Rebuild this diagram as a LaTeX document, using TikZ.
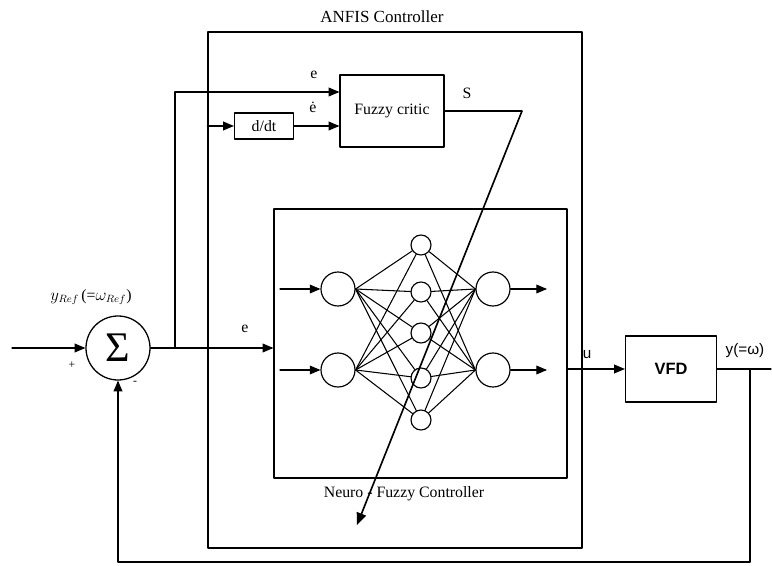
\documentclass[tikz,border=0pt]{standalone}
\usepackage{fontspec}
\setmainfont{Liberation Serif}
\setsansfont{Liberation Sans}
\usetikzlibrary{arrows}

\begin{document}
\begin{tikzpicture}[line cap=round,line join=round,>=triangle 45,x=0.03cm,y=-0.03cm,
    line width=1.1pt,
    box/.style={draw,line width=1.1pt,inner sep=0pt},
    neuron/.style={draw,circle,fill=white,line width=1pt,inner sep=0pt},
    lbl/.style={font=\fontsize{13.5}{15}\selectfont,inner sep=1pt}]
                \useasboundingbox (0,0) rectangle (772,566);
                % outer controller boxes
                \node[box,minimum width=11.22cm,minimum height=15.48cm] (anfis) at (395,290) {};
                \node[lbl,anchor=south,font=\fontsize{14.5}{16}\selectfont] (anfislbl) at (382,24) {ANFIS Controller};
                \node[box,minimum width=8.79cm,minimum height=8.07cm] (nf) at (420.5,343.5) {};
                \node[lbl] (nflbl) at (404,494) {Neuro - Fuzzy Controller};
                % blocks
                \node[box,circle,minimum size=1.92cm] (sum) at (118,348) {\fontsize{36}{38}\selectfont Σ};
                \node[box,minimum width=1.77cm,minimum height=0.78cm,lbl] (dt) at (264,126) {d/dt};
                \node[box,minimum width=3.12cm,minimum height=2.16cm,lbl] (critic) at (392,111) {Fuzzy critic};
                \node[box,minimum width=2.73cm,minimum height=1.98cm,font=\sffamily\bfseries\fontsize{14}{16}\selectfont] (vfd) at (671,369) {VFD};
                % neurons
                \node[neuron,minimum size=1.02cm] (in1) at (338,289) {};
                \node[neuron,minimum size=1.02cm] (in2) at (338,370) {};
                \node[neuron,minimum size=1.02cm] (out1) at (493,289) {};
                \node[neuron,minimum size=1.02cm] (out2) at (493,370) {};
                \foreach \i/\y in {1/245,2/292,3/333,4/378,5/420}
                    \node[neuron,minimum size=0.6cm] (h\i) at (421,\y) {};
                \foreach \i in {1,2}
                    \foreach \j in {1,...,5}{
                        \draw [line width=0.9pt] (in\i.east) -- (h\j);
                        \draw [line width=0.9pt] (h\j) -- (out\i.west);
                    }
                % free ends
                \coordinate (src) at (12,348);
                \coordinate (b1) at (175,348);
                \coordinate (etop) at (0,92);
                \coordinate (nin1) at (280,289);
                \coordinate (nin2) at (280,370);
                \coordinate (nout1) at (547,289);
                \coordinate (nout2) at (547,370);
                \coordinate (s1) at (522,111);
                \coordinate (s2) at (357,525);
                \coordinate (yout) at (771,369);
                \coordinate (fb) at (750,369);
                \coordinate (fbot) at (750,562);
                % connectors
                \draw [->] (src) -- (sum.west);
                \draw [->] (sum.east) -- (sum -| nf.west);
                \draw [->] (b1) |- (critic.west |- etop);
                \draw [->] (anfis.west |- dt) -- (dt.west);
                \draw [->] (dt.east) -- (dt -| critic.west);
                \draw [->,line width=1.4pt] (critic.east) -- (s1) -- (s2);
                \draw [->] (nin1) -- (in1.west);
                \draw [->] (nin2) -- (in2.west);
                \draw [->] (out1.east) -- (nout1);
                \draw [->] (out2.east) -- (nout2);
                \draw [->] (nf.east |- vfd) -- (vfd.west);
                \draw (vfd.east) -- (yout);
                \draw [->] (fb) -- (fbot) -| (sum.south);
                % labels
                \node[lbl] (lref) at (91,297) {$y_{Ref}$\,(=$\omega_{Ref}$)};
                \node[lbl] (lplus) at (72,365) {\fontsize{10}{11}\selectfont +};
                \node[lbl] (lminus) at (135,383) {\fontsize{10}{11}\selectfont -};
                \node[lbl] (le1) at (245,329) {e};
                \node[lbl] (le2) at (314,75) {e};
                \node[lbl] (led) at (313,107) {ė};
                \node[lbl] (ls) at (467,93) {S};
                \node[lbl,font=\sffamily\fontsize{13}{15}\selectfont] (lu) at (587,355) {u};
                \node[lbl,font=\sffamily\fontsize{13}{15}\selectfont] (ly) at (745,351) {y(=ω)};
\end{tikzpicture}
\end{document}
